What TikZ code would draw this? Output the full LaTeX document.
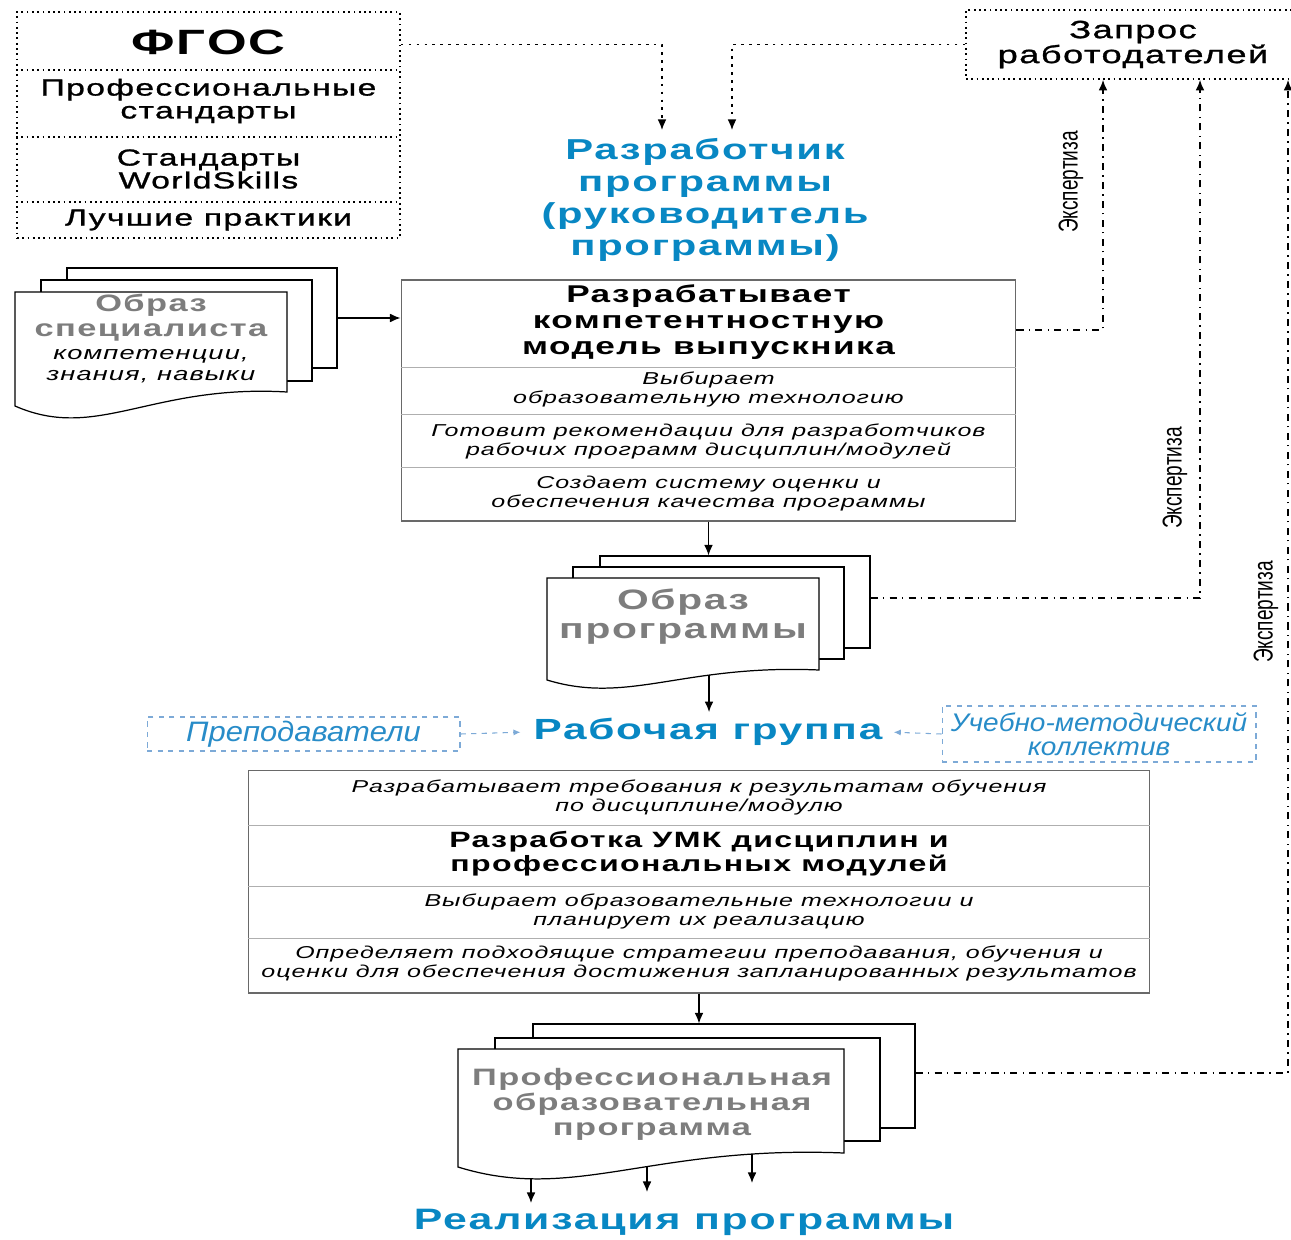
\documentclass[tikz,border=0pt]{standalone}
\usepackage{fontspec}
\setmainfont{Liberation Sans}[FakeStretch=1.45,LetterSpace=6]
\newfontfamily\medfont{Liberation Sans}[FakeStretch=1.45,LetterSpace=6,FakeBold=1.2]
\newfontfamily\narrowfont{Liberation Sans}[FakeStretch=0.7]
\newfontfamily\labelfont{Liberation Sans}[FakeStretch=1.1]
\usetikzlibrary{arrows.meta, positioning, calc}
\definecolor{titleblue}{RGB}{8,135,195}
\definecolor{labelblue}{RGB}{40,140,200}
\definecolor{frameblue}{RGB}{125,170,215}
\definecolor{docgrey}{RGB}{125,125,125}
\definecolor{boxline}{RGB}{105,105,105}
\definecolor{rowline}{RGB}{175,175,175}

\begin{document}
\begin{tikzpicture}[
    x=0.02cm, y=-0.02cm,
    dotbox/.style={draw, dotted, line width=1pt, inner sep=0pt},
    mainbox/.style={draw=boxline, line width=0.6pt, inner sep=0pt},
    sheet/.style={draw, fill=white, line width=0.7pt, inner sep=0pt},
    bluebox/.style={draw=frameblue, dashed, line width=0.6pt, inner sep=0pt},
    rowtext/.style={align=center, font={\fontsize{9.8}{10.8}\selectfont\itshape}},
    stdtext/.style={align=center, font={\fontsize{13.2}{13}\medfont}},
    bluetitle/.style={align=center, text=titleblue, font={\fontsize{16.4}{18.2}\selectfont\bfseries}},
    doctitle/.style={align=center, text=docgrey, font={\fontsize{13.5}{14.2}\selectfont\bfseries}},
    bluelabel/.style={align=center, text=labelblue, font={\fontsize{14.5}{13.8}\labelfont\itshape}},
    exptext/.style={rotate=90, font={\fontsize{15.5}{16}\narrowfont}},
    arr/.style={-{Latex[length=6pt,width=5pt]}, line width=0.7pt},
    dotline/.style={-{Latex[length=6pt,width=5pt]}, line width=0.8pt, dash pattern=on 1.5pt off 3pt},
    expline/.style={-{Latex[length=6pt,width=5pt]}, line width=0.8pt, dash pattern=on 4pt off 3pt on 0.8pt off 3pt},
    bluearr/.style={-{Latex[length=4pt,width=3.5pt]}, draw=frameblue, dashed, line width=0.6pt}
]
    \useasboundingbox (0,0) rectangle (1291,1240);
    \clip (0,0) rectangle (1291,1240);

    % Sources
    \node[dotbox, minimum width=7.66cm, minimum height=4.52cm] (standards) at (208.5,125) {};
    \foreach \y in {70,137,202}
        \draw[dotted, line width=1pt] (standards.west |- 0,\y) -- (standards.east |- 0,\y);
    \node[font={\fontsize{20}{22}\selectfont\bfseries}] (fgos) at (208.5,42) {ФГОС};
    \node[stdtext] (profstd) at (208.5,101) {Профессиональные\\стандарты};
    \node[stdtext] (wsstd) at (208.5,169) {Стандарты\\WorldSkills};
    \node[stdtext] (practice) at (208.5,220) {Лучшие практики};

    \node[dotbox, minimum width=6.68cm, minimum height=1.38cm, align=center,
          font={\fontsize{14.2}{14.2}\medfont}] (request) at (1133,44.5) {Запрос\\работодателей};

    % Developer
    \node[bluetitle] (developer) at (705,200) {Разработчик\\программы\\(руководитель\\программы)};
    \coordinate (devin1) at (662,130);
    \coordinate (devin2) at (732,130);
    \draw[dotline] (standards.east |- request.west) -| (devin1);
    \draw[dotline] (request.west) -| (devin2);

    % Competence model
    \node[mainbox, minimum width=12.3cm, minimum height=4.82cm] (model) at (708.5,400.5) {};
    \foreach \y in {367,414,467}
        \draw[rowline] (model.west |- 0,\y) -- (model.east |- 0,\y);
    \node[align=center, font={\fontsize{13.8}{14.8}\selectfont\bfseries}] (modeltitle) at (708.5,322) {Разрабатывает\\компетентностную\\модель выпускника};
    \node[rowtext] (choose) at (708.5,389) {Выбирает\\образовательную технологию};
    \node[rowtext] (advise) at (708.5,441) {Готовит рекомендации для разработчиков\\рабочих программ дисциплин/модулей};
    \node[rowtext] (quality) at (708.5,494) {Создает систему оценки и\\обеспечения качества программы};

    % Specialist image
    \node[sheet, minimum width=5.4cm, minimum height=2cm] (spec3) at (202,318) {};
    \node[sheet, minimum width=5.42cm, minimum height=2.02cm] (spec2) at (176.5,330.5) {};
    \draw[sheet] (15,292) -- (287,292) -- (287,392) .. controls (151,384) and (97,442) .. (15,406) -- cycle;
    \node[doctitle] (spectitle) at (151,318) {Образ\\специалиста};
    \node[align=center, font={\fontsize{10.7}{12}\selectfont\itshape}] (specsub) at (151,366) {компетенции,\\знания, навыки};
    \draw[arr] (spec3.east) -- (spec3.east -| model.west);

    % Program image
    \node[sheet, minimum width=5.4cm, minimum height=1.84cm] (prog3) at (735,602) {};
    \node[sheet, minimum width=5.42cm, minimum height=1.84cm] (prog2) at (708.5,613) {};
    \draw[sheet] (547,578) -- (819,578) -- (819,670) .. controls (683,664) and (629,705) .. (547,680) -- cycle;
    \node[doctitle, font={\fontsize{16}{16.5}\selectfont\bfseries}] (progtitle) at (683,617) {Образ\\программы};
    \coordinate (progout) at (709,675);
    \draw[arr] (model.south) -- (model.south |- prog3.north);

    % Working group
    \node[text=titleblue, font={\fontsize{16.6}{18}\selectfont\bfseries}] (workgroup) at (708,732) {Рабочая группа};
    \node[bluebox, minimum width=6.26cm, minimum height=0.68cm] (teachers) at (303.5,734) {};
    \node[bluelabel, font={\fontsize{16}{14}\labelfont\itshape}] at (teachers) {Преподаватели};
    \node[bluebox, minimum width=6.28cm, minimum height=1.12cm] (umc) at (1099,734) {};
    \node[bluelabel] at (umc) {Учебно-методический\\коллектив};
    \draw[arr] (progout) -- (progout |- workgroup.north);
    \draw[bluearr, shorten >=4pt] (teachers.east) -- (workgroup.west);
    \draw[bluearr, shorten >=3pt] (umc.west) -- (workgroup.east);

    % Teaching materials
    \node[mainbox, minimum width=18.04cm, minimum height=4.46cm] (umk) at (699,881.5) {};
    \foreach \y in {825,886,938}
        \draw[rowline] (umk.west |- 0,\y) -- (umk.east |- 0,\y);
    \node[rowtext] (outcomes) at (699,797) {Разрабатывает требования к результатам обучения\\по дисциплине/модулю};
    \node[align=center, font={\fontsize{12.6}{13.7}\selectfont\bfseries}] (umktitle) at (699,854) {Разработка УМК дисциплин и\\профессиональных модулей};
    \node[rowtext] (techs) at (699,911) {Выбирает образовательные технологии и\\планирует их реализацию};
    \node[rowtext] (strategy) at (699,963) {Определяет подходящие стратегии преподавания, обучения и\\оценки для обеспечения достижения запланированных результатов};

    % Educational program
    \node[sheet, minimum width=7.64cm, minimum height=2.08cm] (opop3) at (724,1076) {};
    \node[sheet, minimum width=7.7cm, minimum height=2.06cm] (opop2) at (687.5,1089.5) {};
    \draw[sheet] (458,1049) -- (844,1049) -- (844,1153) .. controls (651,1145) and (574,1203) .. (458,1167) -- cycle;
    \node[doctitle] (opoptitle) at (652,1104) {Профессиональная\\образовательная\\программа};
    \draw[arr] (umk.south) -- (umk.south |- opop3.north);

    % Realisation
    \node[bluetitle, font={\fontsize{16.8}{18}\selectfont\bfseries}] (realize) at (684,1222) {Реализация программы};
    \coordinate (out1) at (531,1179);
    \coordinate (out2) at (647,1166);
    \coordinate (out3) at (752,1154);
    \draw[arr] (out1) -- ++(0,24);
    \draw[arr] (out2) -- ++(0,26);
    \draw[arr] (out3) -- ++(0,29);

    % Expertise
    \draw[expline] (model.east |- 0,330) -| (request.south -| 1103,0);
    \draw[expline] (prog3.east |- 0,598) -| (request.south -| 1200,0);
    \draw[expline] (opop3.east |- 0,1073) -| (request.south -| 1288,0);
    \node[exptext] (exp1) at (1071,182) {Экспертиза};
    \node[exptext] (exp2) at (1175,478) {Экспертиза};
    \node[exptext] (exp3) at (1266,612) {Экспертиза};
\end{tikzpicture}
\end{document}
